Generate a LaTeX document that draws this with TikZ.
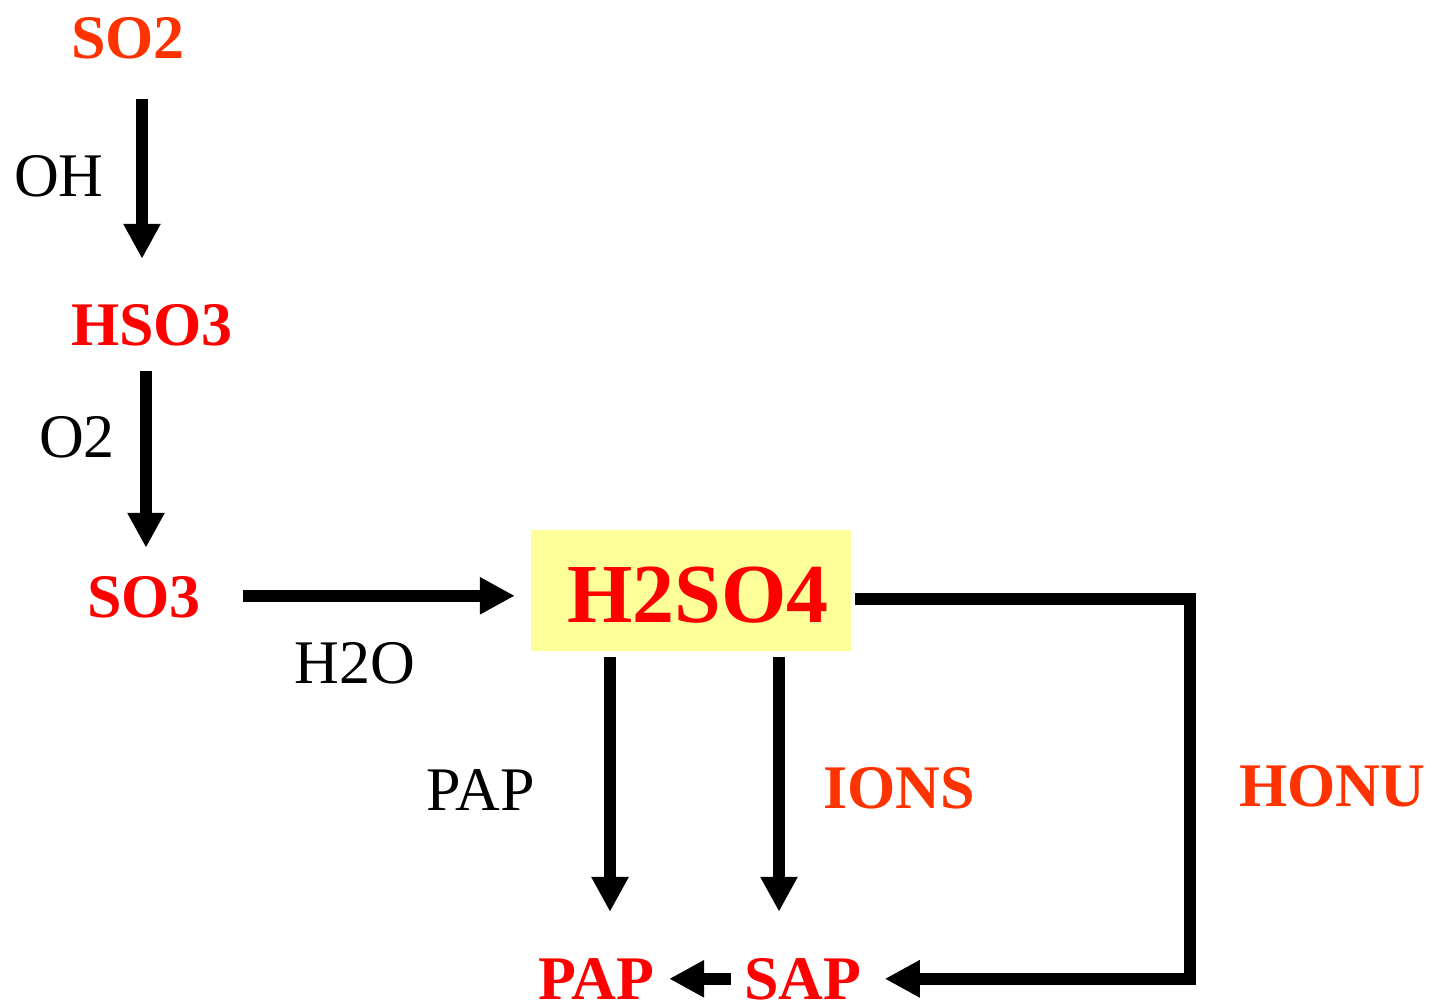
\documentclass[tikz,border=0pt]{standalone}
\usepackage{fontspec}
\setmainfont{Liberation Serif}
\usetikzlibrary{arrows.meta,calc}
\definecolor{rojo}{RGB}{255,0,0}
\definecolor{naranja}{RGB}{255,51,0}
\definecolor{amarillo}{RGB}{255,255,153}
\tikzset{
  especie/.style={inner sep=0pt,anchor=base,font=\fontsize{62}{66}\selectfont\bfseries,text=rojo},
  especien/.style={especie,text=naranja},
  reactivo/.style={inner sep=0pt,anchor=base,font=\fontsize{62}{66}\selectfont,text=black},
  caja/.style={rectangle,fill=amarillo,inner sep=0pt,minimum width=320pt,minimum height=121pt,
    text height=63pt,text depth=0pt,text=rojo,font=\fontsize{84}{88}\selectfont\bfseries},
  flecha/.style={-{Triangle[length=35pt,width=35pt]},line width=12pt,black,line join=miter},
}

\begin{document}
\begin{tikzpicture}[x=1pt,y=-1pt]
  \useasboundingbox (0,0) rectangle (1432,1005);
  % especies
  \node[especien] (so2) at (128,58) {SO2};
  \node[especie] (hso3) at (152,345) {HSO3};
  \node[especie] (so3) at (144,617) {SO3};
  \node[caja] (h2so4) at (691,590.5) {\hspace*{14pt}H2SO4};
  \node[especie] (pap) at (596,999) {PAP};
  \node[especie] (sap) at (803,999) {SAP};
  % reactivos
  \node[reactivo] (oh) at (59,196) {OH};
  \node[reactivo] (o2) at (77,457) {O2};
  \node[reactivo] (h2o) at (355,683) {H2O};
  \node[reactivo] (papr) at (481,810) {PAP};
  \node[especien] (ions) at (899,808) {IONS};
  \node[especien] (honu) at (1332,806) {HONU};
  % flechas
  \draw[flecha] ([xshift=14pt,yshift=-40pt]so2.south) -- ([xshift=-10pt,yshift=45pt]hso3.north);
  \draw[flecha] ([xshift=-6pt,yshift=-25pt]hso3.south) -- ([xshift=2pt,yshift=28pt]so3.north);
  \draw[flecha] ([xshift=42pt,yshift=1pt]so3.east) -- ([xshift=-16pt,yshift=1pt]so3.east -| h2so4.west);
  \draw[flecha] ([xshift=-81pt,yshift=-6pt]h2so4.south) -- ([xshift=14pt,yshift=46pt]pap.north);
  \draw[flecha] ([xshift=88pt,yshift=-6pt]h2so4.south) -- ([xshift=-24pt,yshift=46pt]sap.north);
  \draw[flecha] ([xshift=-13pt]sap.west) -- ([xshift=15pt]sap.west -| pap.east);
  \draw[flecha] ([xshift=4pt,yshift=-8pt]h2so4.east) -- ++(335,0) |- ([xshift=23pt]sap.east);
\end{tikzpicture}
\end{document}
